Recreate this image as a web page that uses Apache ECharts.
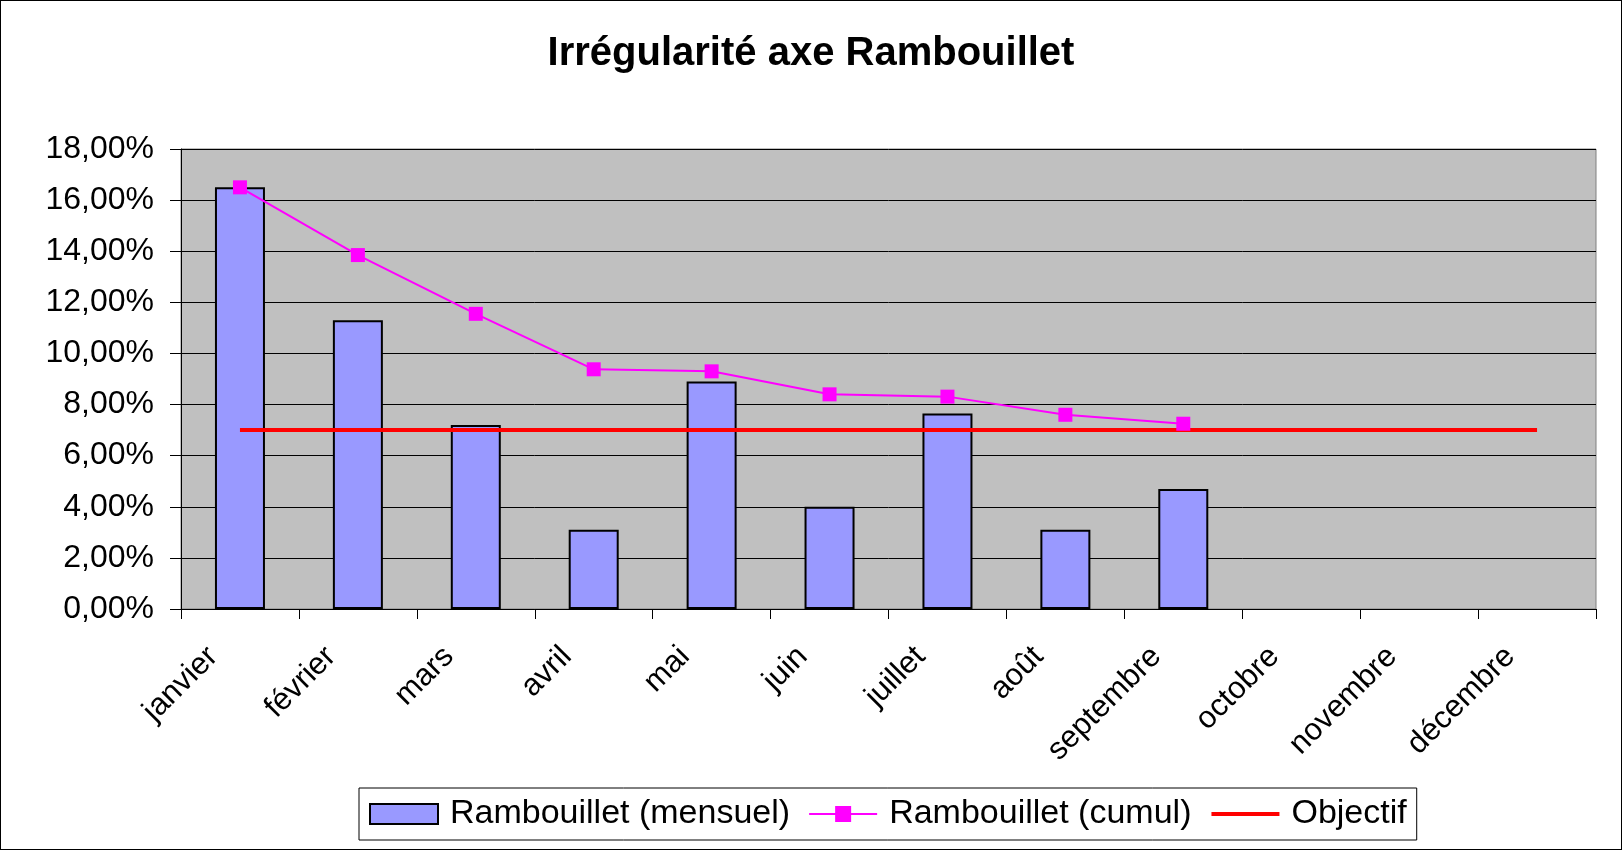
<!DOCTYPE html>
<html>
<head>
<meta charset="utf-8">
<script src="https://cdn.jsdelivr.net/npm/echarts@6/dist/echarts.min.js"></script>
<style>
  html, body { margin: 0; padding: 0; background: #fff; }
  .main {
    width: 1620px;
    height: 848px;
    border: 1px solid #000;
  }
</style>
</head>
<body>
<div class="main" id="chart"></div>
<script>
// mois
const mois = ['janvier', 'février', 'mars', 'avril', 'mai', 'juin',
  'juillet', 'août', 'septembre', 'octobre', 'novembre', 'décembre'];
// valeurs en %
const mensuel = [16.5, 11.3, 7.2, 3.1, 8.9, 4.0, 7.65, 3.1, 4.7, null, null, null];
const cumul = [16.5, 13.85, 11.55, 9.38, 9.3, 8.4, 8.31, 7.6, 7.25, null, null, null];
const objectif = [7, 7, 7, 7, 7, 7, 7, 7, 7, 7, 7, 7];
const yTicks = [0, 18, 2]; // min, max, pas

const fmt = v => v.toFixed(2).replace('.', ',') + '%';
const police = 'Liberation Sans, Arial, sans-serif';

let HChart = echarts.init(document.getElementById('chart'));

let option = {
  animation: false,
  textStyle: { fontFamily: police, color: '#000' },
  title: {
    text: 'Irrégularité axe Rambouillet',
    left: 'center',
    top: 28,
    textStyle: { fontSize: 40, fontWeight: 'bold', color: '#000', fontFamily: police }
  },
  legend: {
    left: 358,
    top: 787,
    padding: [9, 10, 9, 10],
    borderColor: '#000',
    borderWidth: 1,
    backgroundColor: '#fff',
    itemGap: 18,
    itemWidth: 68,
    itemHeight: 20,
    textStyle: { fontSize: 34, color: '#000', fontFamily: police, padding: [0, 0, 0, 7] },
    data: [
      { name: 'Rambouillet (mensuel)', icon: 'rect' },
      { name: 'Rambouillet (cumul)' },
      // ligne seule, sans symbole
      { name: 'Objectif', itemStyle: { opacity: 0 }, lineStyle: { width: 4 } }
    ]
  },
  grid: {
    left: 180,
    right: 25,
    top: 148,
    bottom: 240,
    show: true,
    backgroundColor: '#c0c0c0',
    borderColor: '#808080',
    borderWidth: 1
  },
  xAxis: {
    type: 'category',
    data: mois,
    axisLine: { lineStyle: { color: '#000', width: 1 } },
    axisTick: { show: true, length: 10, lineStyle: { color: '#000' } },
    axisLabel: {
      rotate: 45,
      fontSize: 31,
      color: '#000',
      margin: 16,
      padding: [0, 38, 0, 0],
      fontFamily: police
    }
  },
  yAxis: {
    type: 'value',
    min: yTicks[0],
    max: yTicks[1],
    interval: yTicks[2],
    axisLine: { show: true, lineStyle: { color: '#000' } },
    axisTick: { show: true, length: 11, lineStyle: { color: '#000' } },
    splitLine: { lineStyle: { color: '#000', width: 1 } },
    axisLabel: {
      formatter: fmt,
      fontSize: 32,
      color: '#000',
      margin: 27,
      fontFamily: police
    }
  },
  series: [
    {
      name: 'Rambouillet (mensuel)',
      type: 'bar',
      data: mensuel,
      barWidth: 50,
      itemStyle: { color: '#9999ff', borderColor: '#000', borderWidth: 2 }
    },
    {
      name: 'Rambouillet (cumul)',
      type: 'line',
      data: cumul,
      symbol: 'rect',
      symbolSize: 14,
      lineStyle: { color: '#ff00ff', width: 2 },
      itemStyle: { color: '#ff00ff' },
      z: 4
    },
    {
      name: 'Objectif',
      type: 'line',
      data: objectif,
      symbol: 'none',
      lineStyle: { color: '#ff0000', width: 4 },
      itemStyle: { color: '#ff0000' },
      z: 3
    }
  ]
};

HChart.setOption(option);
</script>
</body>
</html>
